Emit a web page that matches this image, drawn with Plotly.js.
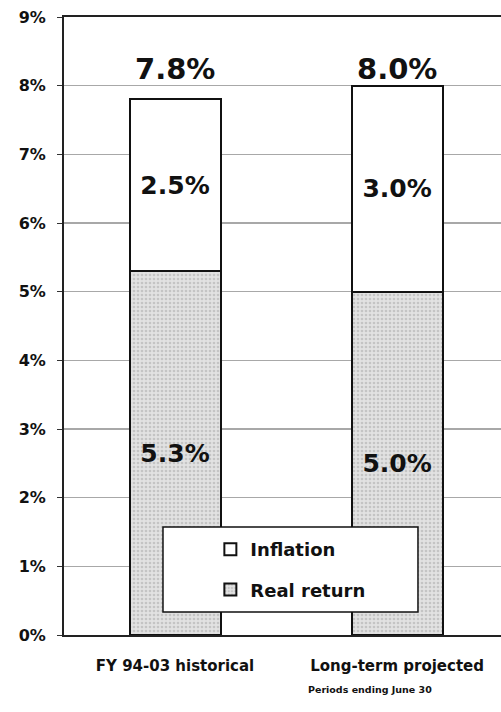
<!DOCTYPE html>
<html>
<head>
<meta charset="utf-8">
<script src="https://cdn.plot.ly/plotly-3.0.1.min.js"></script>
<style>html,body{margin:0;padding:0;background:#fff;}#chart{width:501px;height:712px;}</style>
</head>
<body>
<div id="chart"></div>
<script>
const categories = ["FY 94-03 historical", "Long-term projected"];
const realReturn = [5.3, 5.0];
const inflation = [2.5, 3.0];
const yTickVals = [0,1,2,3,4,5,6,7,8,9];
const yTickText = ["0%","1%","2%","3%","4%","5%","6%","7%","8%","9%"];
const seriesNames = ["Real return", "Inflation"];
const note = "Periods ending June 30";

const FONT = "DejaVu Sans, Verdana, sans-serif";
const pct = v => v.toFixed(1) + "%";
const totals = realReturn.map((v, i) => v + inflation[i]);

const traces = [
  {
    type: "bar", name: seriesNames[0], x: categories, y: realReturn,
    text: realReturn.map(pct), textposition: "inside", insidetextanchor: "middle",
    textangle: 0, constraintext: "none",
    textfont: {family: FONT, size: 25, color: "#111", weight: "bold"},
    marker: {color: "#dadada", line: {color: "#111", width: 2},
             pattern: {shape: ".", fgcolor: "#c4c4c4", bgcolor: "#e2e2e2", size: 4, solidity: 0.35}},
    width: 0.41, legendgroup: "b", legendrank: 2, hoverinfo: "none"
  },
  {
    type: "bar", name: seriesNames[1], x: categories, y: inflation,
    text: inflation.map(pct), textposition: "inside", insidetextanchor: "middle",
    textangle: 0, constraintext: "none",
    textfont: {family: FONT, size: 25, color: "#111", weight: "bold"},
    marker: {color: "#ffffff", line: {color: "#111", width: 2}},
    width: 0.41, legendgroup: "a", legendrank: 1, hoverinfo: "none"
  }
];

const annotations = categories.map((c, i) => ({
  x: c, xref: "x", y: 0.916, yref: "paper", yanchor: "middle",
  text: pct(totals[i]), showarrow: false,
  font: {family: FONT, size: 29, color: "#111", weight: "bold"}
}));
annotations.push({
  x: 0.70, xref: "paper", xanchor: "center", y: -0.088, yref: "paper", yanchor: "middle",
  text: note, showarrow: false,
  font: {family: FONT, size: 9.5, color: "#111", weight: "bold"}
});

const layout = {
  width: 501, height: 712,
  margin: {l: 64, r: 0, t: 17, b: 77},
  paper_bgcolor: "#fff", plot_bgcolor: "#fff",
  barmode: "stack",
  showlegend: true,
  legend: {
    x: 0.518, xanchor: "center", y: 0.106, yanchor: "middle",
    bgcolor: "rgba(0,0,0,0)", borderwidth: 0,
    traceorder: "grouped", tracegroupgap: 14,
    font: {family: FONT, size: 18, color: "#111", weight: "bold"}
  },
  xaxis: {
    type: "category", range: [-0.5, 1.468],
    showline: true, linecolor: "#222", linewidth: 2, mirror: true,
    ticks: "", showgrid: false,
    ticklabelstandoff: 16,
    tickfont: {family: FONT, size: 15, color: "#111", weight: "bold"}
  },
  yaxis: {
    range: [0, 9], tickvals: yTickVals, ticktext: yTickText,
    showline: true, linecolor: "#222", linewidth: 2,
    ticks: "outside", ticklen: 5, tickcolor: "#333",
    showgrid: true, gridcolor: "#a8a8a8", gridwidth: 1.5,
    zeroline: false, ticklabelstandoff: 8,
    tickfont: {family: FONT, size: 16, color: "#111", weight: "bold"}
  },
  shapes: [{
    type: "rect", xref: "paper", yref: "paper", layer: "above",
    x0: 0.2265, x1: 0.81, y0: 0.0372, y1: 0.1748,
    fillcolor: "#fff", line: {color: "#111", width: 1.5}
  }],
  annotations: annotations
};

Plotly.newPlot("chart", traces, layout, {displayModeBar: false, staticPlot: true});
</script>
</body>
</html>
